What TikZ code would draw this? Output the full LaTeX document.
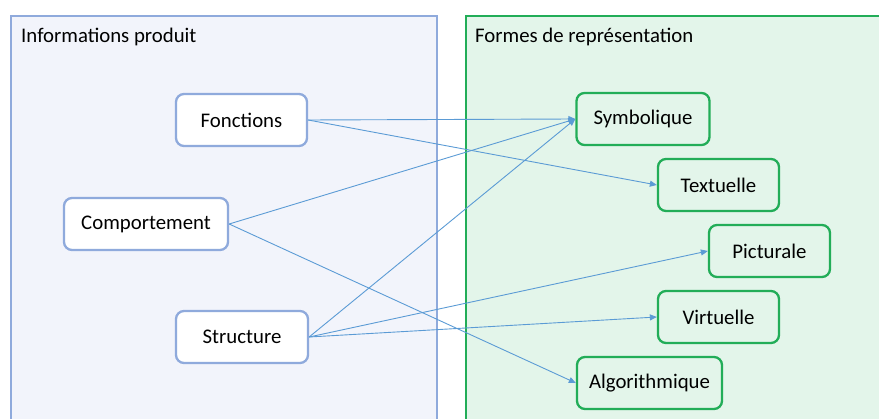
\documentclass[tikz,border=0pt]{standalone}
\usepackage{fontspec}
\setmainfont{Carlito}
\usetikzlibrary{arrows.meta}
\definecolor{lbfill}{HTML}{F2F4FB}
\definecolor{lbline}{HTML}{8FAADC}
\definecolor{gfill}{HTML}{E3F5EA}
\definecolor{gline}{HTML}{22AD58}
\definecolor{arr}{HTML}{5B9BD5}
\tikzset{
  bluebox/.style={draw=lbline, line width=2.3pt, fill=white, rounded corners=8pt, minimum height=52pt, inner sep=0pt, font=\fontsize{20.8}{24}\selectfont},
  greenbox/.style={draw=gline, line width=2.3pt, fill=gfill, rounded corners=8pt, minimum height=52pt, inner sep=0pt, font=\fontsize{20.8}{24}\selectfont},
  link/.style={draw=arr, line width=0.9pt, -{Triangle[length=7pt,width=6pt]}},
  title/.style={anchor=base west, inner sep=0pt, font=\fontsize{20.8}{24}\selectfont}
}
\begin{document}
\begin{tikzpicture}[x=1pt,y=-1pt]
\useasboundingbox (0,0) rectangle (879,419);
\clip (0,0) rectangle (879,419);
\draw[draw=lbline, fill=lbfill, line width=2.3pt] (11,16) rectangle (437,440);
\draw[draw=gline, fill=gfill, line width=2.3pt] (466,16) rectangle (900,440);
\node[title] (t1) at (21,43) {Informations produit};
\node[title] (t2) at (475,43) {Formes de représentation};

\node[bluebox, minimum width=131pt] (fon) at (241.5,120) {Fonctions};
\node[bluebox, minimum width=164pt] (com) at (146,224) {Comportement};
\node[bluebox, minimum width=132pt] (str) at (242,337) {Structure};

\node[greenbox, minimum width=133pt] (sym) at (643,119) {Symbolique};
\node[greenbox, minimum width=121pt] (tex) at (718.5,185) {Textuelle};
\node[greenbox, minimum width=121pt] (pic) at (769.5,251) {Picturale};
\node[greenbox, minimum width=121pt] (vir) at (718.5,317) {Virtuelle};
\node[greenbox, minimum width=145pt] (alg) at (649.5,383) {Algorithmique};

\draw[link] (fon.east) -- (sym.west);
\draw[link] (fon.east) -- (tex.west);
\draw[link] (com.east) -- (sym.west);
\draw[link] (com.east) -- (alg.west);
\draw[link] (str.east) -- (sym.west);
\draw[link] (str.east) -- (pic.west);
\draw[link] (str.east) -- (vir.west);
\end{tikzpicture}
\end{document}
